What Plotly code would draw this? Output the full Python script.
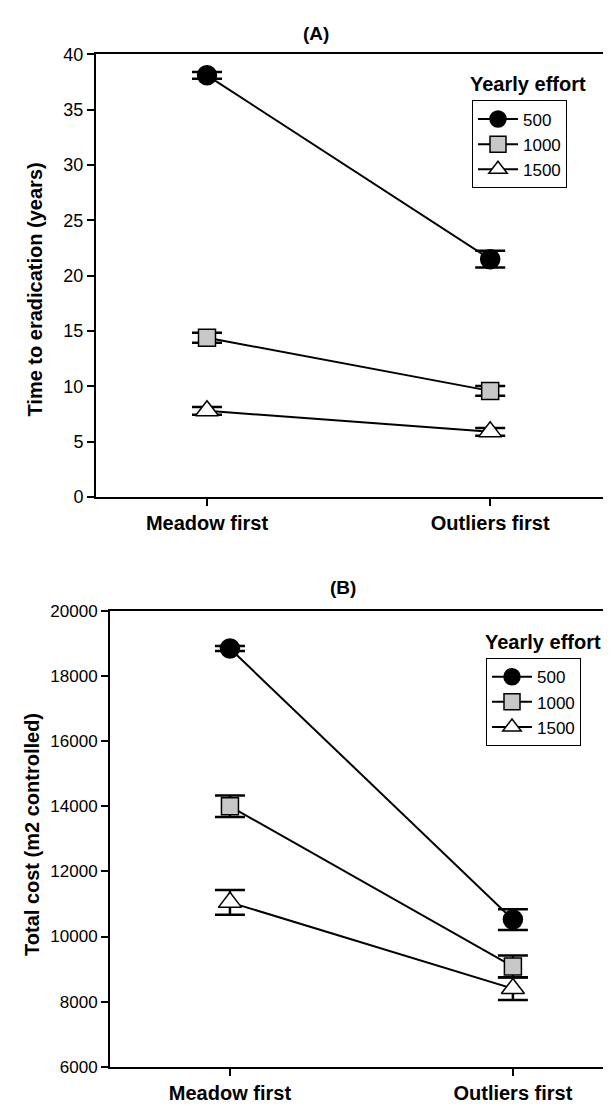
import plotly.graph_objects as go

strategies = ["Meadow first", "Outliers first"]
efforts = ["500", "1000", "1500"]

# Panel A: time to eradication (years)
time_mean = {"500": [38.1, 21.5], "1000": [14.4, 9.6], "1500": [7.8, 5.9]}
time_err = {"500": [0.3, 0.75], "1000": [0.45, 0.45], "1500": [0.35, 0.35]}

# Panel B: total cost (m2 controlled)
cost_mean = {"500": [18850, 10520], "1000": [14000, 9080], "1500": [11050, 8400]}
cost_err = {"500": [80, 320], "1000": [330, 340], "1500": [380, 350]}

marker_styles = {
    "500": dict(symbol="circle", size=19, color="black", line=dict(color="black", width=1.5)),
    "1000": dict(symbol="square", size=17, color="#c8c8c8", line=dict(color="black", width=1.5)),
    "1500": dict(symbol="triangle-up", size=20, color="white", line=dict(color="black", width=1.5)),
}

FONT = "Liberation Sans, Arial, sans-serif"
W, H = 611, 1106

fig = go.Figure()

for e in efforts:
    fig.add_trace(go.Scatter(
        x=strategies, y=time_mean[e], name=e, mode="lines+markers",
        line=dict(color="black", width=2), marker=marker_styles[e],
        error_y=dict(type="data", array=time_err[e], color="black", thickness=2.5, width=15),
        xaxis="x", yaxis="y", legend="legend",
    ))
for e in efforts:
    fig.add_trace(go.Scatter(
        x=strategies, y=cost_mean[e], name=e, mode="lines+markers",
        line=dict(color="black", width=2), marker=marker_styles[e],
        error_y=dict(type="data", array=cost_err[e], color="black", thickness=2.5, width=15),
        xaxis="x2", yaxis="y2", legend="legend2",
    ))

def px_x(p):
    return p / W

def px_y(p):
    return 1 - p / H

axis_common = dict(showline=True, linecolor="black", linewidth=2,
                   ticks="outside", ticklen=7, tickwidth=1.5, tickcolor="black",
                   showgrid=False, zeroline=False)

xtickfont = dict(size=20, family=FONT, weight="bold")

A_TOP, A_BOT = 37, 488
B_TOP, B_BOT = 604, 1068

fig.update_layout(
    width=W, height=H, margin=dict(l=0, r=0, t=0, b=0),
    paper_bgcolor="white", plot_bgcolor="white",
    font=dict(family=FONT, size=17, color="black"),
    showlegend=True,
    xaxis=dict(domain=[px_x(88), px_x(596)], anchor="y", type="category",
               range=[-0.392, 1.402], tickfont=xtickfont, mirror=True, **axis_common),
    yaxis=dict(domain=[px_y(A_BOT), px_y(A_TOP)], anchor="x", range=[0, 40], dtick=5,
               tickfont=dict(size=18), mirror=True, **axis_common),
    xaxis2=dict(domain=[px_x(102), px_x(611)], anchor="y2", type="category",
                range=[-0.424, 1.375], tickfont=xtickfont, mirror=True, **axis_common),
    yaxis2=dict(domain=[px_y(B_BOT), px_y(B_TOP)], anchor="x2", range=[6000, 20000], dtick=2000,
                tickformat="d", tickfont=dict(size=17), mirror=False, **axis_common),
    legend=dict(x=px_x(464), y=px_y(84), xanchor="left", yanchor="top",
                bordercolor="black", borderwidth=1, bgcolor="white",
                font=dict(size=17), itemwidth=40, tracegroupgap=0),
    legend2=dict(x=px_x(478), y=px_y(652), xanchor="left", yanchor="top",
                 bordercolor="black", borderwidth=1, bgcolor="white",
                 font=dict(size=17), itemwidth=40, tracegroupgap=0),
    annotations=[
        dict(text="<b>(A)</b>", x=px_x(308), y=px_y(16), xref="paper", yref="paper",
             xanchor="center", yanchor="middle", showarrow=False, font=dict(size=19)),
        dict(text="<b>(B)</b>", x=px_x(335), y=px_y(B_TOP - 24), xref="paper", yref="paper",
             xanchor="center", yanchor="middle", showarrow=False, font=dict(size=19)),
        dict(text="<b>Yearly effort</b>", x=px_x(520), y=px_y(67), xref="paper", yref="paper",
             xanchor="center", yanchor="middle", showarrow=False, font=dict(size=20)),
        dict(text="<b>Yearly effort</b>", x=px_x(535), y=px_y(636), xref="paper", yref="paper",
             xanchor="center", yanchor="middle", showarrow=False, font=dict(size=20)),
        dict(text="<b>Time to eradication (years)</b>", x=px_x(26), y=px_y((A_TOP + A_BOT) / 2 + 14),
             xref="paper", yref="paper", xanchor="center", yanchor="middle",
             textangle=-90, showarrow=False, font=dict(size=20)),
        dict(text="<b>Total cost (m2 controlled)</b>", x=px_x(24), y=px_y((B_TOP + B_BOT) / 2 - 4),
             xref="paper", yref="paper", xanchor="center", yanchor="middle",
             textangle=-90, showarrow=False, font=dict(size=20)),
    ],
)

fig.write_html("out.html")
